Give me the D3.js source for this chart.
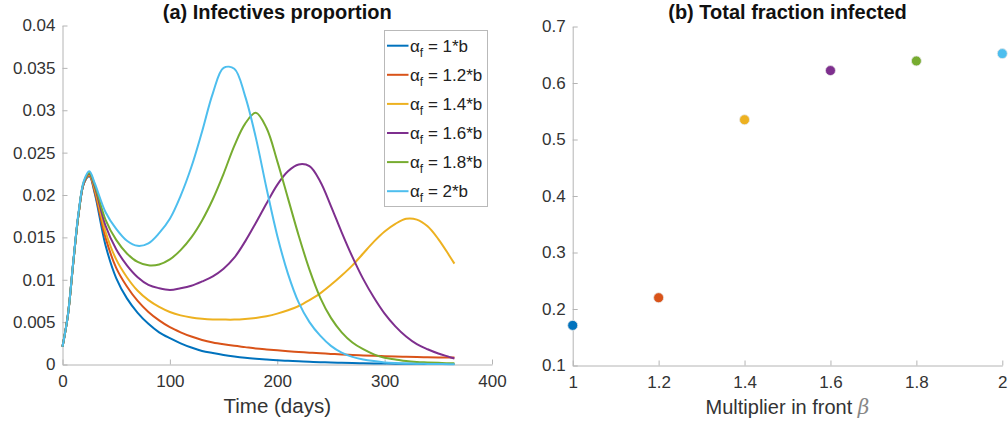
<!DOCTYPE html>
<html><head><meta charset="utf-8">
<script src="https://cdn.jsdelivr.net/npm/d3@7"></script>
<style>
body{margin:0;background:#fff;}
svg{display:block;font-family:"Liberation Sans",Arial,sans-serif;}
</style></head>
<body><svg id="c" width="1008" height="423"></svg>
<script>
// ---------- data ----------
const times = [0,5,10,15,20,25,30,40,50,60,70,80,90,100,110,120,130,140,150,160,170,180,190,200,210,220,230,240,250,260,270,280,290,300,310,320,330,340,350,360,365];
const seriesLabels = ["1*b","1.2*b","1.4*b","1.6*b","1.8*b","2*b"];
const colors = ["#0072BD","#D95319","#EDB120","#7E2F8E","#77AC30","#4DBEEE"];
const I_1_0 = [0.0021,0.0058,0.0120,0.0178,0.0214,0.0222,0.0202,0.0141,0.0102,0.0078,0.0061,0.0048,0.0038,0.0031,0.0025,0.0020,0.0016,0.00135,0.00113,0.00095,0.0008,0.00068,0.00058,0.0005,0.00043,0.00037,0.00032,0.00027,0.00023,0.0002,0.00017,0.00015,0.00013,0.00011,0.0001,0.00009,0.00008,0.00007,0.00006,0.00005,0.00005];
const I_1_2 = [0.0021,0.0058,0.0120,0.0178,0.0214,0.0223,0.0204,0.0150,0.0114,0.0092,0.0075,0.0062,0.0052,0.0044,0.0038,0.0033,0.0029,0.0026,0.00238,0.0022,0.00205,0.0019,0.00178,0.00167,0.00157,0.00148,0.0014,0.00132,0.00125,0.00118,0.00112,0.00107,0.00102,0.00098,0.00094,0.00091,0.00088,0.00086,0.00084,0.00083,0.00082];
const I_1_4 = [0.0021,0.0058,0.0120,0.0178,0.0215,0.0224,0.0207,0.0157,0.0124,0.0103,0.0087,0.0076,0.0068,0.0062,0.0058,0.00555,0.0054,0.00532,0.0053,0.0053,0.00537,0.0055,0.0057,0.0060,0.0064,0.0069,0.0076,0.0084,0.0094,0.0105,0.0117,0.0131,0.0145,0.0157,0.0166,0.0172,0.0171,0.0163,0.0148,0.0129,0.0119];
const I_1_6 = [0.0021,0.0058,0.0120,0.0178,0.0215,0.0225,0.0210,0.0164,0.0136,0.0117,0.0103,0.0094,0.0090,0.0088,0.0090,0.0093,0.0098,0.0104,0.0113,0.0126,0.0145,0.0167,0.0190,0.0212,0.0228,0.0236,0.0234,0.0216,0.0187,0.0156,0.0127,0.0101,0.0079,0.0060,0.0045,0.0033,0.0024,0.0018,0.0013,0.0009,0.0007];
const I_1_8 = [0.0021,0.0058,0.0120,0.0178,0.0216,0.0226,0.0212,0.0171,0.0147,0.0131,0.0121,0.0117,0.0118,0.0124,0.0135,0.0150,0.0170,0.0195,0.0225,0.0258,0.0284,0.0297,0.0279,0.0240,0.0196,0.0152,0.0112,0.0079,0.0055,0.0038,0.0026,0.0018,0.0012,0.0008,0.0006,0.0004,0.0003,0.00025,0.0002,0.00015,0.00015];
const I_2_0 = [0.0021,0.0058,0.0121,0.0180,0.0217,0.0228,0.0214,0.0180,0.0160,0.0146,0.0140,0.0143,0.0155,0.0172,0.0199,0.0233,0.0275,0.0320,0.0350,0.0349,0.0317,0.0268,0.0208,0.0152,0.0107,0.0073,0.0050,0.0034,0.0022,0.0014,0.0009,0.0006,0.0004,0.00025,0.00017,0.00012,0.00009,0.00007,0.00005,0.00004,0.00004];
const multipliers = [1,1.2,1.4,1.6,1.8,2];
const totalInfected = [0.171,0.220,0.535,0.622,0.639,0.652];
const xTicksA = [0,100,200,300,400];
const yTicksA = [0,0.005,0.01,0.015,0.02,0.025,0.03,0.035,0.04];
const xTicksB = [1,1.2,1.4,1.6,1.8,2];
const yTicksB = [0.1,0.2,0.3,0.4,0.5,0.6,0.7];
const curves = [I_1_0,I_1_2,I_1_4,I_1_6,I_1_8,I_2_0];

// ---------- drawing ----------
const svg = d3.select("#c");
const axisCol = "#b4b4b4", textCol = "#333333";
const tickFont = 17;

function styleAxis(g){
  g.selectAll(".domain").attr("stroke",axisCol).attr("stroke-width",1);
  g.selectAll(".tick line").attr("stroke",axisCol);
  g.selectAll(".tick text").attr("fill",textCol).attr("font-size",tickFont)
    .attr("font-family","'Liberation Sans',Arial,sans-serif");
}

// Panel A
const xA = d3.scaleLinear().domain([0,400]).range([62.5,492]);
const yA = d3.scaleLinear().domain([0,0.04]).range([364.5,25.5]);
const gA = svg.append("g");
gA.append("g").attr("transform",`translate(0,${yA(0)})`)
  .call(d3.axisBottom(xA).tickValues(xTicksA).tickFormat(d3.format("d")).tickSizeInner(-5).tickSizeOuter(0).tickPadding(10))
  .call(styleAxis);
gA.append("g").attr("transform",`translate(${xA(0)},0)`)
  .call(d3.axisLeft(yA).tickValues(yTicksA).tickFormat(d=>d===0?"0":String(+d.toFixed(3))).tickSizeInner(-5).tickSizeOuter(0).tickPadding(7))
  .call(styleAxis);

const line = d3.line().x((d,i)=>xA(times[i])).y(d=>yA(d)).curve(d3.curveCatmullRom.alpha(0.5));
curves.forEach((c,k)=>{
  gA.append("path").attr("d",line(c)).attr("fill","none")
    .attr("stroke",colors[k]).attr("stroke-width",2).attr("stroke-linejoin","round");
});

gA.append("text").attr("x",(xA(0)+xA(400))/2).attr("y",19).attr("text-anchor","middle")
  .attr("font-weight","bold").attr("font-size",20).attr("fill","#111").text("(a) Infectives proportion");
gA.append("text").attr("x",(xA(0)+xA(400))/2).attr("y",413).attr("text-anchor","middle")
  .attr("font-size",20.5).attr("fill",textCol).text("Time (days)");

// Legend
const lg = gA.append("g");
lg.append("rect").attr("x",384.5).attr("y",30.5).attr("width",103).attr("height",176)
  .attr("fill","#fff").attr("stroke","#b9b9b9").attr("stroke-width",1);
seriesLabels.forEach((lab,k)=>{
  const yy = 45.7 + k*29.1;
  lg.append("line").attr("x1",387).attr("x2",408.5).attr("y1",yy).attr("y2",yy)
    .attr("stroke",colors[k]).attr("stroke-width",2);
  const t = lg.append("text").attr("x",410).attr("y",yy+6).attr("font-size",17).attr("fill","#222");
  t.append("tspan").text("α");
  t.append("tspan").attr("font-size",12).attr("dy",5).text("f");
  t.append("tspan").attr("dy",-5).text(" = "+lab);
});

// Panel B
const xB = d3.scaleLinear().domain([1,2]).range([572.7,1002.3]);
const yB = d3.scaleLinear().domain([0.1,0.7]).range([365.5,26.5]);
const gB = svg.append("g");
gB.append("g").attr("transform",`translate(0,${yB(0.1)})`)
  .call(d3.axisBottom(xB).tickValues(xTicksB).tickFormat(d=>String(+d.toFixed(1))).tickSizeInner(-5).tickSizeOuter(0).tickPadding(10))
  .call(styleAxis);
gB.append("g").attr("transform",`translate(${xB(1)},0)`)
  .call(d3.axisLeft(yB).tickValues(yTicksB).tickFormat(d=>String(+d.toFixed(1))).tickSizeInner(-5).tickSizeOuter(0).tickPadding(7))
  .call(styleAxis);
gB.selectAll("circle.pt").data(multipliers).enter().append("circle")
  .attr("cx",d=>xB(d)).attr("cy",(d,i)=>yB(totalInfected[i])).attr("r",5)
  .attr("fill",(d,i)=>colors[i]).attr("stroke","#e8e8e8").attr("stroke-width",0.8);
gB.append("text").attr("x",(xB(1)+xB(2))/2).attr("y",19).attr("text-anchor","middle")
  .attr("font-weight","bold").attr("font-size",20).attr("fill","#111").text("(b) Total fraction infected");
const xl = gB.append("text").attr("x",(xB(1)+xB(2))/2).attr("y",414).attr("text-anchor","middle")
  .attr("font-size",20).attr("fill",textCol);
xl.append("tspan").text("Multiplier in front ");
xl.append("tspan").attr("font-style","italic").attr("font-family","'DejaVu Serif',serif").attr("fill","#888").text("β");
</script></body></html>
